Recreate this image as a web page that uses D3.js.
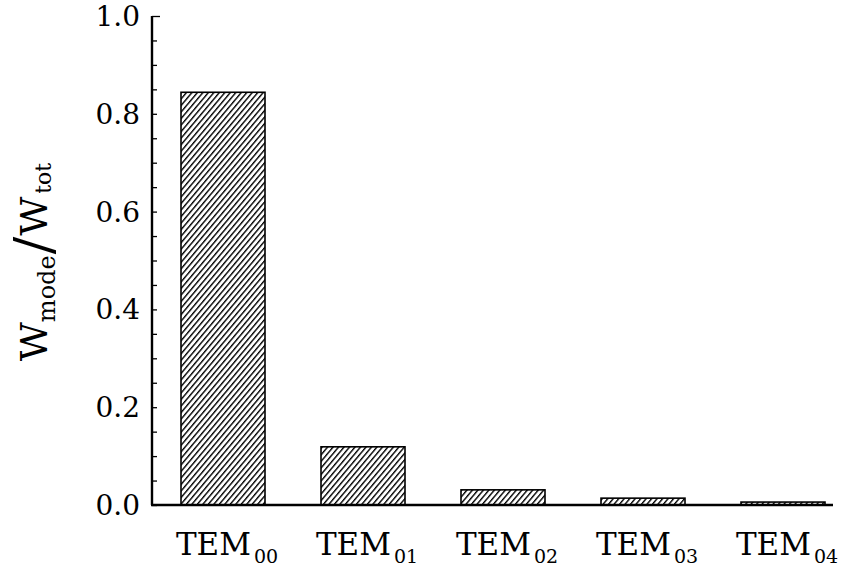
<!DOCTYPE html>
<html>
<head>
<meta charset="utf-8">
<script src="https://cdn.jsdelivr.net/npm/d3@7"></script>
<style>
  body { margin: 0; background: #fff; }
  svg { display: block; }
  text { font-family: "DejaVu Serif", serif; fill: #000; }
</style>
</head>
<body>
<svg id="chart" width="847" height="569"></svg>
<script>
const modes = ["00", "01", "02", "03", "04"];
const fractions = [0.844, 0.119, 0.031, 0.014, 0.006];
const yTicks = [0, 0.2, 0.4, 0.6, 0.8, 1.0];
const yMinorTicks = d3.range(0, 1.0001, 0.05);

(function (d3) {
    'use strict';

    const svg = d3.select("#chart");

    const x = d3.scaleBand()
        .domain(modes)
        .range([153, 853])
        .paddingInner(0.4)
        .paddingOuter(0.2);

    const y = d3.scaleLinear()
        .domain([0, 1])
        .range([505, 16]);

    // hatch pattern for bars
    const defs = svg.append("defs");
    const pat = defs.append("pattern")
        .attr("id", "hatch")
        .attr("patternUnits", "userSpaceOnUse")
        .attr("width", 4.2)
        .attr("height", 4.2)
        .attr("patternTransform", "rotate(40)");
    pat.append("rect").attr("width", 4.2).attr("height", 4.2).attr("fill", "#fff");
    pat.append("line")
        .attr("x1", 0).attr("y1", 0)
        .attr("x2", 0).attr("y2", 4.2)
        .attr("stroke", "#000")
        .attr("stroke-width", 2.8);

    // bars
    svg.append("g")
        .selectAll("rect")
        .data(modes)
        .enter()
        .append("rect")
        .attr("x", d => x(d))
        .attr("width", x.bandwidth())
        .attr("y", (d, i) => y(fractions[i]))
        .attr("height", (d, i) => y(0) - y(fractions[i]))
        .attr("fill", "url(#hatch)")
        .attr("stroke", "#000")
        .attr("stroke-width", 1.6);

    // y axis, ticks pointing inward
    const yAxis = d3.axisRight(y)
        .tickValues(yMinorTicks)
        .tickSize(5)
        .tickFormat("");
    const gy = svg.append("g")
        .attr("transform", "translate(152,0)")
        .call(yAxis);
    gy.select(".domain").remove();
    gy.selectAll(".tick line").attr("stroke", "#000").attr("stroke-width", 1.3);
    gy.selectAll(".tick line").filter(d => Math.abs(d - 1) < 1e-6).attr("x2", 8);

    svg.append("line")
        .attr("x1", 152).attr("x2", 152)
        .attr("y1", y(1)).attr("y2", y(0))
        .attr("stroke", "#000")
        .attr("stroke-width", 2.4);

    svg.append("line")
        .attr("x1", 151).attr("x2", 833)
        .attr("y1", y(0)).attr("y2", y(0))
        .attr("stroke", "#000")
        .attr("stroke-width", 2.4);

    // y tick labels
    svg.append("g")
        .selectAll("text")
        .data(yTicks)
        .enter()
        .append("text")
        .attr("x", 140)
        .attr("y", d => y(d) + 10)
        .attr("text-anchor", "end")
        .style("font-size", "28px")
        .text(d => d3.format(".1f")(d));

    // x labels
    const xl = svg.append("g")
        .selectAll("text")
        .data(modes)
        .enter()
        .append("text")
        .attr("x", d => x(d) + x.bandwidth() / 2 + 4)
        .attr("y", 555)
        .attr("text-anchor", "middle")
        .style("font-size", "31px");
    xl.append("tspan").text("TEM");
    xl.append("tspan")
        .attr("dx", 3)
        .attr("dy", 8)
        .style("font-size", "19px")
        .text(d => d);

    // y label
    const yl = svg.append("text")
        .attr("transform", "translate(47,262) rotate(-90)")
        .attr("text-anchor", "middle");
    yl.append("tspan").style("font-size", "38px").text("W");
    yl.append("tspan").attr("dy", 8).style("font-size", "24px").text("mode");
    yl.append("tspan").attr("dy", -4).attr("dx", 1).style("font-size", "52px").text("/");
    yl.append("tspan").attr("dy", -4).attr("dx", 1).style("font-size", "38px").text("W");
    yl.append("tspan").attr("dx", 3).attr("dy", 4).style("font-size", "22px").text("tot");

}(d3));
</script>
</body>
</html>
